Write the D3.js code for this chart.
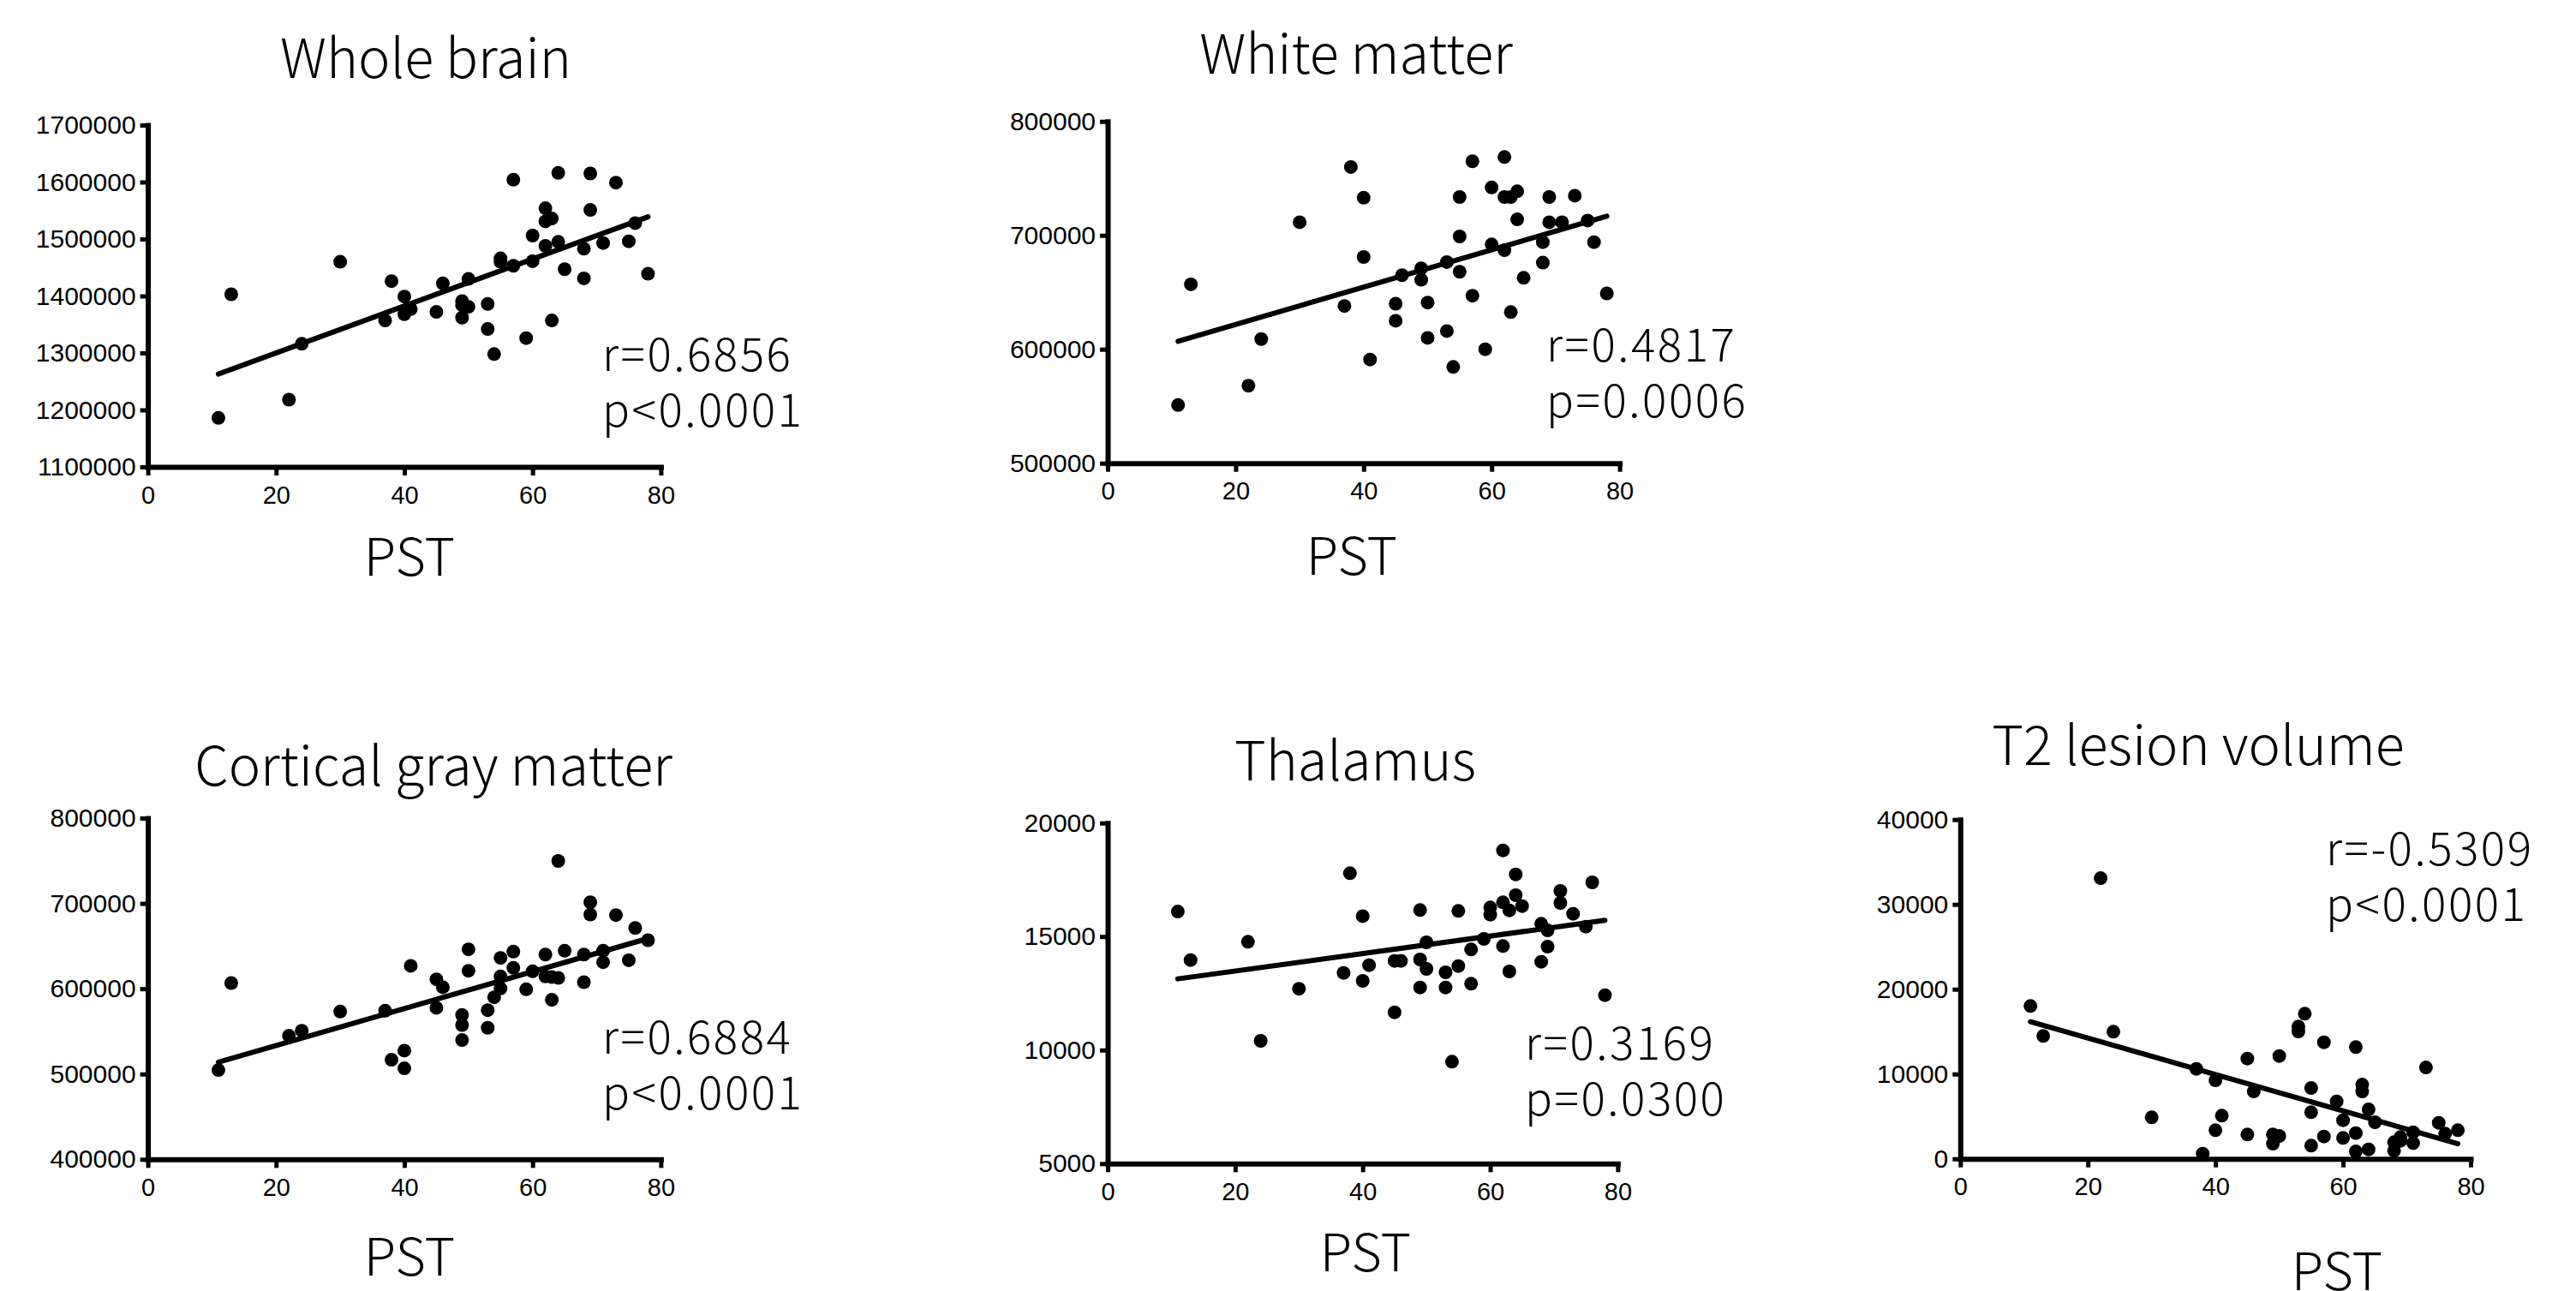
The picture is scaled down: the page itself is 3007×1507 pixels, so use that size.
<!DOCTYPE html>
<html><head><meta charset="utf-8">
<script src="https://cdn.jsdelivr.net/npm/d3@7"></script>
<style>
body{margin:0;background:#fff;}
svg{display:block;}
</style></head><body>
<script>
// ---------- DATA ----------
const xTicks = [0, 20, 40, 60, 80];
const xLabel = "PST";
const titles = ["Whole brain", "White matter", "Cortical gray matter", "Thalamus", "T2 lesion volume"];

const wholeBrainPts = [[11,1186000],[13,1403000],[22,1218000],[24,1316000],[30,1460000],[37,1357000],[38,1426000],
 [40,1399000],[40,1368000],[41,1377000],[45,1372000],[46,1422000],[49,1391000],[49,1362000],[49,1384000],[50,1381000],
 [50,1430000],[53,1386000],[53,1342000],[54,1298000],[55,1466000],[55,1460000],[57,1604000],[57,1453000],[59,1326000],
 [60,1506000],[60,1461000],[62,1554000],[62,1531000],[63,1536000],[62,1488000],[63,1357000],[64,1616000],[64,1495000],
 [65,1447000],[68,1483000],[68,1431000],[69,1615000],[69,1551000],[71,1493000],[73,1599000],[75,1496000],[76,1528000],[78,1439000]];
const whiteMatterPts = [[11,551000],[13,657000],[22,568000],[24,609000],[30,711500],[37,638000],[38,760000],[40,733000],
 [40,681000],[41,591000],[45,640000],[45,625000],[46,665000],[49,671000],[49,661000],[50,641000],[50,610000],[53,616000],
 [53,676500],[54,584500],[55,733600],[55,699000],[55,668000],[57,765000],[57,647000],[59,600000],[60,742000],[60,692000],
 [62,768700],[62,733600],[62,687000],[63,733600],[63,632600],[64,738600],[64,714000],[65,662700],[68,694000],[68,676000],
 [69,733600],[69,711500],[71,711500],[73,734800],[75,713000],[76,694000],[78,649000]];
const corticalGrayPts = [[11,504700],[13,606700],[22,544800],[24,550800],[30,573200],[37,574200],[38,516700],[40,527400],
 [40,506700],[41,626800],[45,611000],[45,577600],[46,601700],[49,569200],[49,557500],[49,539800],[50,646200],[50,621100],
 [53,574900],[53,554200],[54,589900],[55,636100],[55,614400],[55,600300],[57,643500],[57,624400],[59,599300],[60,620400],
 [62,640100],[62,614400],[63,613700],[63,587000],[64,749800],[64,612700],[65,644500],[68,640100],[68,607700],[69,701300],
 [69,687000],[71,631100],[71,644500],[73,686300],[75,633400],[76,671200],[78,656900]];
const thalamusPts = [[11,16100],[13,13965],[22,14770],[24,10407],[30,12700],[37,13400],[38,17787],[40,15900],[40,13047],
 [41,13739],[45,13928],[45,11665],[46,13928],[49,16165],[49,13990],[49,12758],[50,13576],[50,14745],[53,13425],[53,12758],
 [54,9490],[55,16128],[55,13701],[57,14430],[57,12922],[59,14896],[60,16279],[60,15964],[62,18793],[62,16505],[62,14581],
 [63,16153],[63,13462],[64,17737],[64,16819],[65,16342],[68,15562],[68,13890],[69,15273],[69,14556],[71,17008],[71,16480],
 [73,16002],[75,15436],[76,17385],[78,12419]];
const lesionPts = [[11,18013],[13,14478],[22,33097],[24,14983],[30,4882],[37,10606],[38,606],[40,9259],[40,3367],[41,5084],
 [45,11818],[45,2862],[46,7946],[49,2862],[49,1785],[50,12121],[50,2694],[53,15589],[53,15017],[54,17104],[55,8350],
 [55,5488],[55,1549],[57,13737],[57,2626],[59,6768],[60,4545],[60,2458],[62,13165],[62,3030],[62,875],[63,8754],[63,7946],
 [64,5825],[64,1111],[65,4310],[68,1953],[68,943],[69,2559],[69,2121],[71,3131],[71,1852],[73,10774],[75,4242],[76,2963],[78,3367]];

const wholeBrainFit = [[11,1263000],[78,1539000]];
const whiteMatterFit = [[11,607000],[78,716800]];
const corticalGrayFit = [[11,514000],[78,658900]];
const thalamusFit = [[11,13136],[78,15713]];
const lesionFit = [[11,16162],[78,1785]];

const wholeBrainTicks = [1100000,1200000,1300000,1400000,1500000,1600000,1700000];
const whiteMatterTicks = [500000,600000,700000,800000];
const corticalGrayTicks = [400000,500000,600000,700000,800000];
const thalamusTicks = [5000,10000,15000,20000];
const lesionTicks = [0,10000,20000,30000,40000];

const statsText = [["r=0.6856","p<0.0001"],["r=0.4817","p=0.0006"],["r=0.6884","p<0.0001"],["r=0.3169","p=0.0300"],["r=-0.5309","p<0.0001"]];

// ---------- LAYOUT ----------
const W = 3007, H = 1507;
const panels = [
 {pts: wholeBrainPts, fit: wholeBrainFit, ticks: wholeBrainTicks, x0:172.6, x1:771.4, yTop:146, yBot:545, tx:497, ty:90.7, px:478, py:671.7, sx:703, sy:433},
 {pts: whiteMatterPts, fit: whiteMatterFit, ticks: whiteMatterTicks, x0:1293, x1:1890.6, yTop:141.7, yBot:540.7, tx:1583, ty:86, px:1578, py:671, sx:1805, sy:421.7},
 {pts: corticalGrayPts, fit: corticalGrayFit, ticks: corticalGrayTicks, x0:172.6, x1:771.4, yTop:955, yBot:1353.3, tx:506, ty:917, px:478, py:1489, sx:703, sy:1230},
 {pts: thalamusPts, fit: thalamusFit, ticks: thalamusTicks, x0:1293, x1:1888.4, yTop:960.7, yBot:1358.3, tx:1582, ty:911, px:1594, py:1484, sx:1780, sy:1237},
 {pts: lesionPts, fit: lesionFit, ticks: lesionTicks, x0:2288.3, x1:2884, yTop:956.7, yBot:1352.7, tx:2566, ty:892.7, px:2728, py:1506, sx:2715, sy:1010}
];

const svg = d3.select("body").append("svg").attr("width", W).attr("height", H);
svg.append("rect").attr("width", W).attr("height", H).attr("fill", "#fff");

const textFont = "'Noto Sans CJK JP Light', 'Noto Sans CJK JP', 'Noto Sans', sans-serif";
const tickFont = "'Liberation Sans', Arial, sans-serif";

panels.forEach((p, i) => {
  const yd = d3.extent(p.ticks);
  const x = d3.scaleLinear().domain([0, 80]).range([p.x0, p.x1]);
  const y = d3.scaleLinear().domain(yd).range([p.yBot, p.yTop]);
  const g = svg.append("g");

  const ya = g.append("g").attr("transform", `translate(${p.x0},0)`)
    .call(d3.axisLeft(y).tickValues(p.ticks).tickSize(9).tickSizeOuter(0).tickPadding(5).tickFormat(d3.format("d")));
  const xa = g.append("g").attr("transform", `translate(0,${p.yBot})`)
    .call(d3.axisBottom(x).tickValues(xTicks).tickSize(10).tickSizeOuter(0).tickPadding(12).tickFormat(d3.format("d")));
  [ya, xa].forEach(a => {
    a.select(".domain").attr("stroke", "#000").attr("stroke-width", 6).attr("stroke-linecap", "square");
    a.selectAll(".tick line").attr("stroke", "#000").attr("stroke-width", 5);
    a.selectAll(".tick text").attr("fill", "#000").style("font-family", tickFont).style("font-size", "29px");
  });
  ya.selectAll(".tick text").style("font-size", "30px");

  g.append("line")
    .attr("x1", x(p.fit[0][0])).attr("y1", y(p.fit[0][1]))
    .attr("x2", x(p.fit[1][0])).attr("y2", y(p.fit[1][1]))
    .attr("stroke", "#000").attr("stroke-width", 6).attr("stroke-linecap", "round");

  g.selectAll("circle").data(p.pts).join("circle")
    .attr("cx", d => x(d[0])).attr("cy", d => y(d[1])).attr("r", 8).attr("fill", "#000");

  g.append("text").attr("x", p.tx).attr("y", p.ty).attr("text-anchor", "middle")
    .style("font-family", textFont).style("font-weight", 300).style("font-size", "63px").attr("fill", "#000").text(titles[i]);
  g.append("text").attr("x", p.px).attr("y", p.py).attr("text-anchor", "middle")
    .style("font-family", textFont).style("font-weight", 300).style("font-size", "61px").attr("fill", "#000").text(xLabel);
  statsText[i].forEach((s, k) => {
    g.append("text").attr("x", p.sx).attr("y", p.sy + k * 65)
      .style("font-family", textFont).style("font-weight", 300).style("font-size", "53px")
      .style("letter-spacing", "2.5px").attr("fill", "#000").text(s);
  });
});
</script>
</body></html>
